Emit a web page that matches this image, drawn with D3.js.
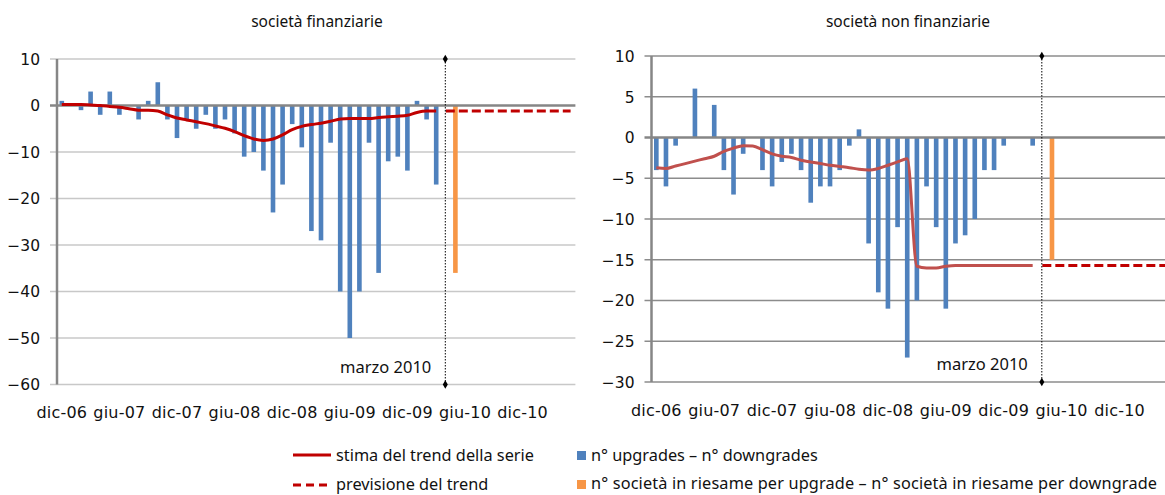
<!DOCTYPE html>
<html><head><meta charset="utf-8">
<script src="https://cdn.jsdelivr.net/npm/d3@7"></script>
<style>
body{margin:0;background:#fff;}
svg{display:block;}
.ax text{font-family:"DejaVu Sans",sans-serif;font-size:15.5px;fill:#111;}
.xl{font-family:"DejaVu Sans",sans-serif;font-size:16px;fill:#111;letter-spacing:0.2px;}
.ttl{font-family:"Noto Sans","Open Sans",sans-serif;font-size:15.5px;fill:#111;}
.mz{font-family:"Noto Sans","Open Sans",sans-serif;font-size:16.5px;fill:#111;}
.lg{font-family:"Noto Sans","Open Sans",sans-serif;font-size:16.3px;fill:#111;}
</style></head>
<body>
<svg id="c" width="1165" height="495"></svg>
<script>
// ---- data ----
const nCategories = 54; // dic-06 ... mag-11 (monthly)
const tickLabels = ["dic-06","giu-07","dic-07","giu-08","dic-08","giu-09","dic-09","giu-10","dic-10"];
const markerLabel = "marzo 2010";
const markerIndex = 40;
const reviewIndex = 41;

const finBars = [1,0,-1,3,-2,3,-2,0,-3,1,5,-3,-7,-3,-5,-2,-5,-3,-6,-11,-10,-14,-23,-17,-4,-9,-27,-29,-8,-40,-50,-40,-8,-36,-12,-11,-14,1,-3,-17];
const finReview = [-36];
const finTrend = [0.2,0.2,0.2,0.1,0,-0.2,-0.4,-0.7,-1.0,-1.0,-1.2,-2.0,-2.7,-3.1,-3.5,-3.9,-4.4,-4.9,-5.6,-6.5,-7.2,-7.5,-7.2,-6.3,-5.2,-4.5,-4.1,-3.8,-3.4,-2.9,-2.8,-2.8,-2.8,-2.6,-2.4,-2.3,-2.1,-1.5,-1.2,-1.2];
const finForecast = [-1.2,-1.2,-1.2,-1.2,-1.2,-1.2,-1.2,-1.2,-1.2,-1.2,-1.2,-1.2,-1.2,-1.2,-1.2];

const nfBars = [-4,-6,-1,0,6,0,4,-4,-7,-2,0,-4,-6,-3,-2,-4,-8,-6,-6,-4,-1,1,-13,-19,-21,-11,-27,-20,-6,-11,-21,-13,-12,-10,-4,-4,-1,0,0,-1];
const nfReview = [-15];
const nfTrend = [-3.7,-3.8,-3.5,-3.2,-2.9,-2.6,-2.3,-1.7,-1.3,-1.0,-1.05,-1.5,-2.0,-2.3,-2.45,-2.8,-3.0,-3.2,-3.4,-3.55,-3.7,-3.9,-4.0,-3.8,-3.4,-3.0,-2.6,-15.8,-16.0,-16.0,-15.8,-15.7,-15.7,-15.7,-15.7,-15.7,-15.7,-15.7,-15.7,-15.7];
const nfForecast = [-15.7,-15.7,-15.7,-15.7,-15.7,-15.7,-15.7,-15.7,-15.7,-15.7,-15.7,-15.7,-15.7,-15.7,-15.7];

const finTicks = [10,0,-10,-20,-30,-40,-50,-60];
const nfTicks = [10,5,0,-5,-10,-15,-20,-25,-30];

const svg = d3.select("#c");
const cats = d3.range(nCategories);

function chart(o){
  const g = svg.append("g");
  const x = d3.scaleBand().domain(cats).range([o.x0, o.x0 + o.band*nCategories]).paddingInner(0.52).paddingOuter(0.26);
  const xc = i => x(i) + x.bandwidth()/2;
  const y = d3.scaleLinear().domain([o.ticks[o.ticks.length-1], o.ticks[0]]).range([o.y1, o.y0]);
  const xr = Math.min(o.x0 + o.band*nCategories, 1165);

  // gridlines
  g.append("g").selectAll("line").data(o.ticks.filter(t=>t!==0)).join("line")
    .attr("x1", o.x0-7).attr("x2", xr).attr("y1", d=>y(d)).attr("y2", d=>y(d))
    .attr("stroke", o.grid).attr("stroke-width", o.gridW);
  // y axis
  const ya = g.append("g").attr("class","ax").attr("transform",`translate(${o.x0},0)`)
    .call(d3.axisLeft(y).tickValues(o.ticks).tickSize(0).tickPadding(17).tickFormat(d=> d<0 ? "\u2212"+Math.abs(d) : d));
  ya.select(".domain").remove();
  ya.selectAll("text").attr("dy","0.35em");
  g.append("line").attr("x1",o.x0).attr("x2",o.x0).attr("y1",o.y0).attr("y2",o.y1).attr("stroke","#868686").attr("stroke-width",2.5);

  // bars
  g.append("g").selectAll("rect").data(o.bars).join("rect")
    .attr("x",(d,i)=>x(i)).attr("width",x.bandwidth())
    .attr("y",d=>y(Math.max(0,d))).attr("height",d=>Math.abs(y(d)-y(0)))
    .attr("fill","#4F81BD");
  g.append("g").selectAll("rect").data(o.review).join("rect")
    .attr("x",(d,i)=>x(reviewIndex+i)).attr("width",x.bandwidth())
    .attr("y",d=>y(Math.max(0,d))).attr("height",d=>Math.abs(y(d)-y(0)))
    .attr("fill","#F79646");

  // zero line
  g.append("line").attr("x1",o.x0-7).attr("x2",xr).attr("y1",y(0)).attr("y2",y(0)).attr("stroke","#868686").attr("stroke-width",2.5);

  // x labels
  g.append("g").selectAll("text").data(tickLabels).join("text").attr("class","xl")
    .attr("x",(d,i)=>xc(i*6)).attr("y",o.labY).attr("text-anchor","middle").text(d=>d);

  // trend
  const line = d3.line().x((d,i)=>xc(i)).y(d=>y(d)).curve(d3.curveMonotoneX);
  g.append("path").datum(o.trend).attr("d",line).attr("fill","none").attr("stroke",o.trendColor).attr("stroke-width",3).attr("stroke-linejoin","round");
  const fline = d3.line().x((d,i)=>xc(markerIndex+i)).y(d=>y(d));
  g.append("path").datum(o.forecast).attr("d",fline).attr("fill","none").attr("stroke","#C00000").attr("stroke-width",3).attr("stroke-dasharray","9,4");

  // marker line
  const mx = xc(markerIndex) - 0.5;
  g.append("line").attr("x1",mx).attr("x2",mx).attr("y1",o.y0).attr("y2",o.y1).attr("stroke","#000").attr("stroke-width",1).attr("stroke-dasharray","1.5,1.5");
  [o.y0,o.y1].forEach(yy=>{
    g.append("path").attr("d",d3.symbol(d3.symbolDiamond,22)()).attr("transform",`translate(${mx},${yy})`).attr("fill","#000");
  });
  g.append("text").attr("class","mz").attr("x",mx-14).attr("y",o.y1-12).attr("text-anchor","end").text(markerLabel);

  // title
  g.append("text").attr("class","ttl").attr("x",o.titleX).attr("y",27).attr("text-anchor","middle").text(o.title);
}

chart({x0:57, band:9.6, y0:59, y1:384.5, ticks:finTicks, bars:finBars, review:finReview, trend:finTrend, forecast:finForecast,
  trendColor:"#C00000", grid:"#C8C8C8", gridW:1.5, labY:418, title:"società finanziarie", titleX:317});
chart({x0:651.5, band:9.65, y0:56, y1:382, ticks:nfTicks, bars:nfBars, review:nfReview, trend:nfTrend, forecast:nfForecast,
  trendColor:"#C0504D", grid:"#8C8C8C", gridW:1.5, labY:416, title:"società non finanziarie", titleX:908});

// legend
const lg = svg.append("g");
lg.append("line").attr("x1",293).attr("x2",331).attr("y1",455).attr("y2",455).attr("stroke","#C00000").attr("stroke-width",3);
lg.append("text").attr("class","lg").attr("x",336).attr("y",461).text("stima del trend della serie");
lg.append("line").attr("x1",293).attr("x2",331).attr("y1",485).attr("y2",485).attr("stroke","#C00000").attr("stroke-width",3).attr("stroke-dasharray","8,5");
lg.append("text").attr("class","lg").attr("x",336).attr("y",490).text("previsione del trend");
lg.append("rect").attr("x",577).attr("y",451).attr("width",9).attr("height",9).attr("fill","#4F81BD");
lg.append("text").attr("class","lg").attr("x",591).attr("y",461).text("n° upgrades – n° downgrades");
lg.append("rect").attr("x",577).attr("y",480).attr("width",9).attr("height",9).attr("fill","#F79646");
lg.append("text").attr("class","lg").attr("x",591).attr("y",489).attr("textLength",566).attr("lengthAdjust","spacing").text("n° società in riesame per upgrade – n° società in riesame per downgrade");
</script>
</body></html>
